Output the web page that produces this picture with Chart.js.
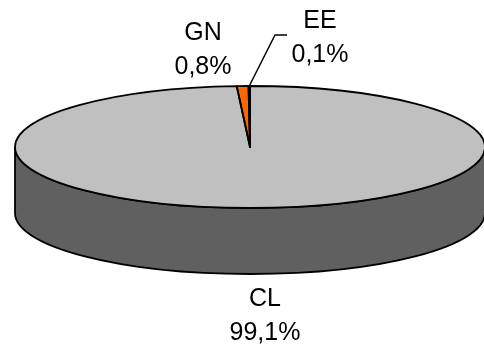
<!DOCTYPE html>
<html>
<head>
<meta charset="utf-8">
<script src="https://cdn.jsdelivr.net/npm/chart.js@4/dist/chart.umd.min.js"></script>
<style>
  html, body { margin: 0; padding: 0; background: #fff; }
  #wrap { width: 484px; height: 347px; }
</style>
</head>
<body>
<div id="wrap"><canvas id="pieChart" width="484" height="347"></canvas></div>
<script>
const categories = ['CL', 'GN', 'EE']
const shares = [99.1, 0.8, 0.1]
const shareLabels = ['99,1%', '0,8%', '0,1%']
const sliceColors = ['#C0C0C0', '#FF6600', '#FFFFCC']

// where the flattened pie sits on the page
const CX = 250, CY = 147, RX = 235, RY = 61, DEPTH = 66

const shade = (hex, f) => {
    const n = parseInt(hex.slice(1), 16)
    const r = Math.round(((n >> 16) & 255) * f)
    const g = Math.round(((n >> 8) & 255) * f)
    const b = Math.round((n & 255) * f)
    return `rgb(${r},${g},${b})`
}

const pie3d = {
    id: 'pie3d',
    beforeDatasetsDraw(chart) {
        const ctx = chart.ctx
        const arcs = chart.getDatasetMeta(0).data
        const colors = chart.data.datasets[0].backgroundColor

        // side wall (front half only)
        arcs.forEach((arc, i) => {
            const a0 = Math.max(arc.startAngle, 0)
            const a1 = Math.min(arc.endAngle, Math.PI)
            if (a1 <= a0) return
            ctx.save()
            ctx.beginPath()
            ctx.ellipse(CX, CY, RX, RY, 0, a0, a1)
            ctx.ellipse(CX, CY + DEPTH, RX, RY, 0, a1, a0, true)
            ctx.closePath()
            ctx.fillStyle = shade(colors[i], 0.5)
            ctx.fill()
            ctx.lineWidth = 1.8
            ctx.strokeStyle = '#000'
            ctx.stroke()
            ctx.restore()
        })

        // squash the library's round pie into the top ellipse
        const ref = arcs[0]
        const r = ref.outerRadius
        ctx.save()
        ctx.translate(CX, CY)
        ctx.scale(RX / r, RY / r)
        ctx.translate(-ref.x, -ref.y)
    },
    afterDatasetsDraw(chart) {
        const ctx = chart.ctx
        ctx.restore()
        const arcs = chart.getDatasetMeta(0).data

        ctx.save()
        ctx.lineWidth = 1.8
        ctx.strokeStyle = '#000'
        ctx.lineJoin = 'round'
        arcs.forEach(arc => {
            ctx.beginPath()
            ctx.moveTo(CX, CY)
            ctx.ellipse(CX, CY, RX, RY, 0, arc.startAngle, arc.endAngle)
            ctx.closePath()
            ctx.stroke()
        })

        // leader line for the tiny EE slice
        const ee = arcs[2]
        const mid = (ee.startAngle + ee.endAngle) / 2
        ctx.lineWidth = 1.5
        ctx.beginPath()
        ctx.moveTo(287, 35)
        ctx.lineTo(275, 35)
        ctx.lineTo(CX + RX * Math.cos(mid), CY + RY * Math.sin(mid))
        ctx.stroke()

        // data labels
        const spots = [[265, 306], [203, 40], [320, 28]]
        ctx.fillStyle = '#000'
        ctx.font = '25px "Liberation Sans", Arial, sans-serif'
        ctx.textAlign = 'center'
        ctx.textBaseline = 'alphabetic'
        categories.forEach((c, i) => {
            const [x, y] = spots[i]
            ctx.fillText(c, x, y)
            ctx.fillText(shareLabels[i], x, y + 34)
        })
        ctx.restore()
    }
}

new Chart(document.getElementById('pieChart'), {
    type: 'pie',
    data: {
        labels: categories,
        datasets: [{
            data: shares,
            backgroundColor: sliceColors,
            borderWidth: 0
        }]
    },
    options: {
        responsive: false,
        animation: false,
        events: [],
        layout: { padding: 20 },
        plugins: {
            legend: { display: false },
            tooltip: { enabled: false }
        }
    },
    plugins: [pie3d]
})
</script>
</body>
</html>
